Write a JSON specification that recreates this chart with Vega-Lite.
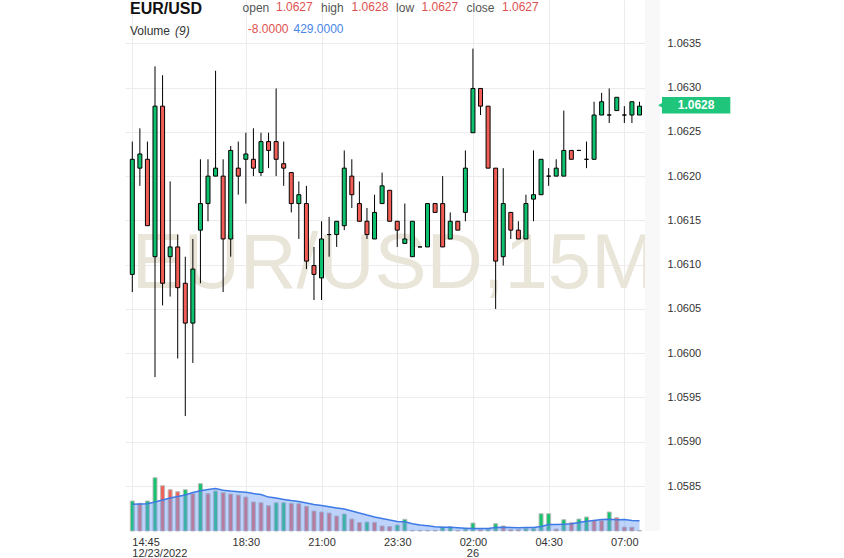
{
"$schema": "https://vega.github.io/schema/vega-lite/v6.json",
"width": 535, "height": 531,
"autosize": "none",
"padding": {"left": 125, "top": 0, "right": 184, "bottom": 27},
"background": "white",
"config": {"view": {"stroke": null}, "font": "Liberation Sans",
  "axisX": {"domain": false, "ticks": false, "grid": true, "gridColor": "#ececec", "gridWidth": 1, "labelAlign": "center", "labelBaseline": "top", "labelPadding": 5, "labelFontSize": 11, "labelColor": "#333333", "labelOverlap": false, "labelFlush": false, "labelBound": false, "labelFont": "Liberation Sans"},
  "axisY": {"domain": false, "ticks": false, "grid": true, "gridColor": "#ececec", "gridWidth": 1, "labelPadding": 7, "labelFontSize": 11, "labelColor": "#333333", "labelBaseline": "middle", "labelFont": "Liberation Sans"}},
"datasets": {
"bars": [
{"i":0,"o":1.06089,"h":1.06239,"l":1.06069,"c":1.06219,"v":1260,"ma":1121,"vd":"u"},
{"i":1,"o":1.06209,"h":1.06254,"l":1.06189,"c":1.06225,"v":1163,"ma":1134,"vd":"d"},
{"i":2,"o":1.06219,"h":1.06239,"l":1.06144,"c":1.06144,"v":1260,"ma":1147,"vd":"u"},
{"i":3,"o":1.06109,"h":1.06324,"l":1.05973,"c":1.06279,"v":2239,"ma":1218,"vd":"u"},
{"i":4,"o":1.06279,"h":1.06314,"l":1.06054,"c":1.06079,"v":1903,"ma":1302,"vd":"d"},
{"i":5,"o":1.06109,"h":1.06194,"l":1.06064,"c":1.0612,"v":1735,"ma":1386,"vd":"d"},
{"i":6,"o":1.0612,"h":1.06134,"l":1.05994,"c":1.06074,"v":1651,"ma":1449,"vd":"d"},
{"i":7,"o":1.06079,"h":1.06109,"l":1.05929,"c":1.06034,"v":1735,"ma":1512,"vd":"u"},
{"i":8,"o":1.06034,"h":1.06129,"l":1.05989,"c":1.06095,"v":1567,"ma":1613,"vd":"d"},
{"i":9,"o":1.06139,"h":1.06219,"l":1.06079,"c":1.06169,"v":1987,"ma":1693,"vd":"u"},
{"i":10,"o":1.06169,"h":1.06219,"l":1.06149,"c":1.062,"v":1567,"ma":1739,"vd":"d"},
{"i":11,"o":1.062,"h":1.06319,"l":1.062,"c":1.06209,"v":1680,"ma":1785,"vd":"u"},
{"i":12,"o":1.062,"h":1.06219,"l":1.06069,"c":1.06129,"v":1609,"ma":1714,"vd":"d"},
{"i":13,"o":1.06129,"h":1.06234,"l":1.06109,"c":1.06229,"v":1554,"ma":1676,"vd":"d"},
{"i":14,"o":1.06209,"h":1.06239,"l":1.06179,"c":1.062,"v":1512,"ma":1651,"vd":"d"},
{"i":15,"o":1.06219,"h":1.06249,"l":1.06169,"c":1.06225,"v":1428,"ma":1625,"vd":"d"},
{"i":16,"o":1.06219,"h":1.06254,"l":1.062,"c":1.06209,"v":1218,"ma":1571,"vd":"d"},
{"i":17,"o":1.06204,"h":1.06249,"l":1.062,"c":1.06239,"v":1189,"ma":1529,"vd":"d"},
{"i":18,"o":1.06239,"h":1.06249,"l":1.06209,"c":1.06229,"v":1063,"ma":1424,"vd":"d"},
{"i":19,"o":1.06239,"h":1.06299,"l":1.062,"c":1.06219,"v":1189,"ma":1382,"vd":"u"},
{"i":20,"o":1.06214,"h":1.06239,"l":1.06189,"c":1.06209,"v":1189,"ma":1327,"vd":"u"},
{"i":21,"o":1.06204,"h":1.06204,"l":1.06159,"c":1.06169,"v":1163,"ma":1277,"vd":"d"},
{"i":22,"o":1.06169,"h":1.06194,"l":1.06129,"c":1.06179,"v":1147,"ma":1235,"vd":"d"},
{"i":23,"o":1.06169,"h":1.06189,"l":1.06095,"c":1.06104,"v":1037,"ma":1180,"vd":"d"},
{"i":24,"o":1.06099,"h":1.0612,"l":1.0606,"c":1.06089,"v":840,"ma":1113,"vd":"d"},
{"i":25,"o":1.06085,"h":1.06149,"l":1.0606,"c":1.06129,"v":798,"ma":1067,"vd":"d"},
{"i":26,"o":1.06134,"h":1.06154,"l":1.06109,"c":1.06134,"v":756,"ma":1021,"vd":"d"},
{"i":27,"o":1.06134,"h":1.06149,"l":1.0612,"c":1.06149,"v":630,"ma":970,"vd":"d"},
{"i":28,"o":1.06144,"h":1.06229,"l":1.06139,"c":1.06209,"v":714,"ma":920,"vd":"u"},
{"i":29,"o":1.062,"h":1.06219,"l":1.06164,"c":1.06179,"v":504,"ma":844,"vd":"d"},
{"i":30,"o":1.06169,"h":1.06194,"l":1.06149,"c":1.06149,"v":357,"ma":752,"vd":"d"},
{"i":31,"o":1.06149,"h":1.06164,"l":1.06129,"c":1.06134,"v":378,"ma":668,"vd":"u"},
{"i":32,"o":1.06129,"h":1.06179,"l":1.06129,"c":1.06159,"v":365,"ma":592,"vd":"d"},
{"i":33,"o":1.06169,"h":1.06204,"l":1.06169,"c":1.06189,"v":210,"ma":525,"vd":"d"},
{"i":34,"o":1.06184,"h":1.06184,"l":1.06149,"c":1.06149,"v":189,"ma":458,"vd":"d"},
{"i":35,"o":1.06149,"h":1.06149,"l":1.0612,"c":1.06139,"v":252,"ma":399,"vd":"u"},
{"i":36,"o":1.06124,"h":1.06169,"l":1.06124,"c":1.06129,"v":491,"ma":386,"vd":"u"},
{"i":37,"o":1.06109,"h":1.06149,"l":1.06109,"c":1.06149,"v":29,"ma":307,"vd":"d"},
{"i":38,"o":1.0612,"h":1.0612,"l":1.0612,"c":1.0612,"v":29,"ma":256,"vd":"d"},
{"i":39,"o":1.0612,"h":1.06169,"l":1.0612,"c":1.06169,"v":29,"ma":218,"vd":"d"},
{"i":40,"o":1.06169,"h":1.06169,"l":1.06159,"c":1.06159,"v":29,"ma":181,"vd":"d"},
{"i":41,"o":1.06169,"h":1.062,"l":1.0612,"c":1.0612,"v":168,"ma":160,"vd":"u"},
{"i":42,"o":1.06129,"h":1.06159,"l":1.06129,"c":1.06149,"v":176,"ma":155,"vd":"u"},
{"i":43,"o":1.06149,"h":1.06149,"l":1.06139,"c":1.06139,"v":29,"ma":139,"vd":"d"},
{"i":44,"o":1.06159,"h":1.06229,"l":1.06149,"c":1.06209,"v":84,"ma":118,"vd":"u"},
{"i":45,"o":1.06249,"h":1.06344,"l":1.06249,"c":1.06299,"v":336,"ma":101,"vd":"u"},
{"i":46,"o":1.06299,"h":1.06299,"l":1.06269,"c":1.06279,"v":55,"ma":105,"vd":"d"},
{"i":47,"o":1.06279,"h":1.06279,"l":1.06209,"c":1.06209,"v":84,"ma":109,"vd":"u"},
{"i":48,"o":1.06209,"h":1.06209,"l":1.0605,"c":1.06104,"v":307,"ma":143,"vd":"u"},
{"i":49,"o":1.06109,"h":1.06209,"l":1.06099,"c":1.06169,"v":210,"ma":160,"vd":"d"},
{"i":50,"o":1.06159,"h":1.06159,"l":1.06129,"c":1.06139,"v":71,"ma":151,"vd":"d"},
{"i":51,"o":1.06139,"h":1.06149,"l":1.06129,"c":1.06129,"v":67,"ma":139,"vd":"d"},
{"i":52,"o":1.06129,"h":1.06179,"l":1.06129,"c":1.06169,"v":113,"ma":147,"vd":"u"},
{"i":53,"o":1.06174,"h":1.06229,"l":1.06149,"c":1.06179,"v":113,"ma":151,"vd":"u"},
{"i":54,"o":1.06179,"h":1.06219,"l":1.06179,"c":1.06219,"v":727,"ma":193,"vd":"u"},
{"i":55,"o":1.062,"h":1.06209,"l":1.06189,"c":1.062,"v":727,"ma":269,"vd":"u"},
{"i":56,"o":1.062,"h":1.06219,"l":1.062,"c":1.06209,"v":84,"ma":269,"vd":"d"},
{"i":57,"o":1.062,"h":1.06274,"l":1.062,"c":1.06229,"v":475,"ma":286,"vd":"u"},
{"i":58,"o":1.06229,"h":1.06229,"l":1.06219,"c":1.06219,"v":349,"ma":302,"vd":"d"},
{"i":59,"o":1.06229,"h":1.06229,"l":1.06229,"c":1.06229,"v":504,"ma":353,"vd":"u"},
{"i":60,"o":1.06219,"h":1.06239,"l":1.06209,"c":1.06219,"v":588,"ma":407,"vd":"u"},
{"i":61,"o":1.06219,"h":1.06284,"l":1.06219,"c":1.06269,"v":449,"ma":445,"vd":"d"},
{"i":62,"o":1.06269,"h":1.06294,"l":1.06269,"c":1.06284,"v":441,"ma":483,"vd":"d"},
{"i":63,"o":1.06269,"h":1.06299,"l":1.0626,"c":1.06269,"v":798,"ma":491,"vd":"u"},
{"i":64,"o":1.06274,"h":1.06289,"l":1.06274,"c":1.06289,"v":559,"ma":470,"vd":"d"},
{"i":65,"o":1.06269,"h":1.06279,"l":1.0626,"c":1.06269,"v":168,"ma":483,"vd":"d"},
{"i":66,"o":1.06269,"h":1.06284,"l":1.0626,"c":1.06284,"v":160,"ma":445,"vd":"d"},
{"i":67,"o":1.06269,"h":1.06284,"l":1.06269,"c":1.06279,"v":21,"ma":429,"vd":"d"}
],
"one": [{"a": 1}]
},
"layer": [
  {"layer": [
    {"data": {"name": "one"},
     "mark": {"type": "text", "text": "EUR/USD,15M", "fontSize": 78, "color": "#e9e5d9", "align": "center", "baseline": "alphabetic", "font": "Liberation Sans"},
     "encoding": {
       "x": {"datum": 34.57, "type": "quantitative", "scale": {"domain": [-0.964, 69.71], "nice": false, "zero": false, "padding": 0}, "axis": {"values": [0,15,25,35,45,55,65], "title": null, "labelExpr": "datum.value == 0 ? '' : datum.value == 15 ? '18:30' : datum.value == 25 ? '21:00' : datum.value == 35 ? '23:30' : datum.value == 45 ? '02:00' : datum.value == 55 ? '04:30' : '07:00'"}},
       "y": {"datum": 1.060736, "type": "quantitative", "scale": {"domain": [1.057992, 1.063989], "nice": false, "zero": false, "padding": 0}, "axis": {"orient": "right", "values": [1.0585,1.059,1.0595,1.06,1.0605,1.061,1.0615,1.062,1.0625,1.063,1.0635], "format": ".4f", "title": null}}}},
    {"data": {"name": "one"},
     "mark": {"type": "rect", "fill": "#f8f8f8"},
     "encoding": {
       "x": {"datum": 67.73, "type": "quantitative", "scale": {"domain": [-0.964, 69.71], "nice": false, "zero": false, "padding": 0}, "axis": {"values": [0,15,25,35,45,55,65], "title": null, "labelExpr": "datum.value == 0 ? '' : datum.value == 15 ? '18:30' : datum.value == 25 ? '21:00' : datum.value == 35 ? '23:30' : datum.value == 45 ? '02:00' : datum.value == 55 ? '04:30' : '07:00'"}},
       "x2": {"datum": 69.71},
       "y": {"datum": 1.057992, "type": "quantitative", "scale": {"domain": [1.057992, 1.063989], "nice": false, "zero": false, "padding": 0}, "axis": {"orient": "right", "values": [1.0585,1.059,1.0595,1.06,1.0605,1.061,1.0615,1.062,1.0625,1.063,1.0635], "format": ".4f", "title": null}},
       "y2": {"datum": 1.063989}}},
    {"data": {"name": "bars"},
     "mark": {"type": "rule", "color": "#000000", "strokeWidth": 1},
     "encoding": {
       "x": {"field": "i", "type": "quantitative", "scale": {"domain": [-0.964, 69.71], "nice": false, "zero": false, "padding": 0}, "axis": {"values": [0,15,25,35,45,55,65], "title": null, "labelExpr": "datum.value == 0 ? '' : datum.value == 15 ? '18:30' : datum.value == 25 ? '21:00' : datum.value == 35 ? '23:30' : datum.value == 45 ? '02:00' : datum.value == 55 ? '04:30' : '07:00'"}},
       "y": {"field": "l", "type": "quantitative", "scale": {"domain": [1.057992, 1.063989], "nice": false, "zero": false, "padding": 0}, "axis": {"orient": "right", "values": [1.0585,1.059,1.0595,1.06,1.0605,1.061,1.0615,1.062,1.0625,1.063,1.0635], "format": ".4f", "title": null}},
       "y2": {"field": "h"}}},
    {"data": {"name": "bars"},
     "mark": {"type": "bar", "size": 4, "stroke": "#000000", "strokeWidth": 1},
     "encoding": {
       "x": {"field": "i", "type": "quantitative", "scale": {"domain": [-0.964, 69.71], "nice": false, "zero": false, "padding": 0}, "axis": {"values": [0,15,25,35,45,55,65], "title": null, "labelExpr": "datum.value == 0 ? '' : datum.value == 15 ? '18:30' : datum.value == 25 ? '21:00' : datum.value == 35 ? '23:30' : datum.value == 45 ? '02:00' : datum.value == 55 ? '04:30' : '07:00'"}},
       "y": {"field": "o", "type": "quantitative", "scale": {"domain": [1.057992, 1.063989], "nice": false, "zero": false, "padding": 0}, "axis": {"orient": "right", "values": [1.0585,1.059,1.0595,1.06,1.0605,1.061,1.0615,1.062,1.0625,1.063,1.0635], "format": ".4f", "title": null}},
       "y2": {"field": "c"},
       "fill": {"condition": {"test": "datum.c > datum.o", "value": "#0ec16e"}, "value": "#f25d55"}}},
    {"data": {"name": "one"},
     "mark": {"type": "text", "text": "EUR/USD", "fontSize": 16, "fontWeight": "bold", "color": "#111111", "align": "left", "baseline": "alphabetic"},
     "encoding": {
       "x": {"datum": -0.304, "type": "quantitative", "scale": {"domain": [-0.964, 69.71], "nice": false, "zero": false, "padding": 0}, "axis": {"values": [0,15,25,35,45,55,65], "title": null, "labelExpr": "datum.value == 0 ? '' : datum.value == 15 ? '18:30' : datum.value == 25 ? '21:00' : datum.value == 35 ? '23:30' : datum.value == 45 ? '02:00' : datum.value == 55 ? '04:30' : '07:00'"}},
       "y": {"datum": 1.063831, "type": "quantitative", "scale": {"domain": [1.057992, 1.063989], "nice": false, "zero": false, "padding": 0}, "axis": {"orient": "right", "values": [1.0585,1.059,1.0595,1.06,1.0605,1.061,1.0615,1.062,1.0625,1.063,1.0635], "format": ".4f", "title": null}}}},
    {"data": {"name": "one"},
     "mark": {"type": "text", "text": "open", "fontSize": 12, "color": "#555555", "align": "left", "baseline": "alphabetic"},
     "encoding": {
       "x": {"datum": 14.57, "type": "quantitative", "scale": {"domain": [-0.964, 69.71], "nice": false, "zero": false, "padding": 0}, "axis": {"values": [0,15,25,35,45,55,65], "title": null, "labelExpr": "datum.value == 0 ? '' : datum.value == 15 ? '18:30' : datum.value == 25 ? '21:00' : datum.value == 35 ? '23:30' : datum.value == 45 ? '02:00' : datum.value == 55 ? '04:30' : '07:00'"}},
       "y": {"datum": 1.063848, "type": "quantitative", "scale": {"domain": [1.057992, 1.063989], "nice": false, "zero": false, "padding": 0}, "axis": {"orient": "right", "values": [1.0585,1.059,1.0595,1.06,1.0605,1.061,1.0615,1.062,1.0625,1.063,1.0635], "format": ".4f", "title": null}}}},
    {"data": {"name": "one"},
     "mark": {"type": "text", "text": "1.0627", "fontSize": 12, "color": "#e0524f", "align": "left", "baseline": "alphabetic"},
     "encoding": {
       "x": {"datum": 18.98, "type": "quantitative", "scale": {"domain": [-0.964, 69.71], "nice": false, "zero": false, "padding": 0}, "axis": {"values": [0,15,25,35,45,55,65], "title": null, "labelExpr": "datum.value == 0 ? '' : datum.value == 15 ? '18:30' : datum.value == 25 ? '21:00' : datum.value == 35 ? '23:30' : datum.value == 45 ? '02:00' : datum.value == 55 ? '04:30' : '07:00'"}},
       "y": {"datum": 1.063865, "type": "quantitative", "scale": {"domain": [1.057992, 1.063989], "nice": false, "zero": false, "padding": 0}, "axis": {"orient": "right", "values": [1.0585,1.059,1.0595,1.06,1.0605,1.061,1.0615,1.062,1.0625,1.063,1.0635], "format": ".4f", "title": null}}}},
    {"data": {"name": "one"},
     "mark": {"type": "text", "text": "high", "fontSize": 12, "color": "#555555", "align": "left", "baseline": "alphabetic"},
     "encoding": {
       "x": {"datum": 24.93, "type": "quantitative", "scale": {"domain": [-0.964, 69.71], "nice": false, "zero": false, "padding": 0}, "axis": {"values": [0,15,25,35,45,55,65], "title": null, "labelExpr": "datum.value == 0 ? '' : datum.value == 15 ? '18:30' : datum.value == 25 ? '21:00' : datum.value == 35 ? '23:30' : datum.value == 45 ? '02:00' : datum.value == 55 ? '04:30' : '07:00'"}},
       "y": {"datum": 1.063848, "type": "quantitative", "scale": {"domain": [1.057992, 1.063989], "nice": false, "zero": false, "padding": 0}, "axis": {"orient": "right", "values": [1.0585,1.059,1.0595,1.06,1.0605,1.061,1.0615,1.062,1.0625,1.063,1.0635], "format": ".4f", "title": null}}}},
    {"data": {"name": "one"},
     "mark": {"type": "text", "text": "1.0628", "fontSize": 12, "color": "#e0524f", "align": "left", "baseline": "alphabetic"},
     "encoding": {
       "x": {"datum": 28.97, "type": "quantitative", "scale": {"domain": [-0.964, 69.71], "nice": false, "zero": false, "padding": 0}, "axis": {"values": [0,15,25,35,45,55,65], "title": null, "labelExpr": "datum.value == 0 ? '' : datum.value == 15 ? '18:30' : datum.value == 25 ? '21:00' : datum.value == 35 ? '23:30' : datum.value == 45 ? '02:00' : datum.value == 55 ? '04:30' : '07:00'"}},
       "y": {"datum": 1.063865, "type": "quantitative", "scale": {"domain": [1.057992, 1.063989], "nice": false, "zero": false, "padding": 0}, "axis": {"orient": "right", "values": [1.0585,1.059,1.0595,1.06,1.0605,1.061,1.0615,1.062,1.0625,1.063,1.0635], "format": ".4f", "title": null}}}},
    {"data": {"name": "one"},
     "mark": {"type": "text", "text": "low", "fontSize": 12, "color": "#555555", "align": "left", "baseline": "alphabetic"},
     "encoding": {
       "x": {"datum": 34.84, "type": "quantitative", "scale": {"domain": [-0.964, 69.71], "nice": false, "zero": false, "padding": 0}, "axis": {"values": [0,15,25,35,45,55,65], "title": null, "labelExpr": "datum.value == 0 ? '' : datum.value == 15 ? '18:30' : datum.value == 25 ? '21:00' : datum.value == 35 ? '23:30' : datum.value == 45 ? '02:00' : datum.value == 55 ? '04:30' : '07:00'"}},
       "y": {"datum": 1.063848, "type": "quantitative", "scale": {"domain": [1.057992, 1.063989], "nice": false, "zero": false, "padding": 0}, "axis": {"orient": "right", "values": [1.0585,1.059,1.0595,1.06,1.0605,1.061,1.0615,1.062,1.0625,1.063,1.0635], "format": ".4f", "title": null}}}},
    {"data": {"name": "one"},
     "mark": {"type": "text", "text": "1.0627", "fontSize": 12, "color": "#e0524f", "align": "left", "baseline": "alphabetic"},
     "encoding": {
       "x": {"datum": 38.2, "type": "quantitative", "scale": {"domain": [-0.964, 69.71], "nice": false, "zero": false, "padding": 0}, "axis": {"values": [0,15,25,35,45,55,65], "title": null, "labelExpr": "datum.value == 0 ? '' : datum.value == 15 ? '18:30' : datum.value == 25 ? '21:00' : datum.value == 35 ? '23:30' : datum.value == 45 ? '02:00' : datum.value == 55 ? '04:30' : '07:00'"}},
       "y": {"datum": 1.063865, "type": "quantitative", "scale": {"domain": [1.057992, 1.063989], "nice": false, "zero": false, "padding": 0}, "axis": {"orient": "right", "values": [1.0585,1.059,1.0595,1.06,1.0605,1.061,1.0615,1.062,1.0625,1.063,1.0635], "format": ".4f", "title": null}}}},
    {"data": {"name": "one"},
     "mark": {"type": "text", "text": "close", "fontSize": 12, "color": "#555555", "align": "left", "baseline": "alphabetic"},
     "encoding": {
       "x": {"datum": 44.15, "type": "quantitative", "scale": {"domain": [-0.964, 69.71], "nice": false, "zero": false, "padding": 0}, "axis": {"values": [0,15,25,35,45,55,65], "title": null, "labelExpr": "datum.value == 0 ? '' : datum.value == 15 ? '18:30' : datum.value == 25 ? '21:00' : datum.value == 35 ? '23:30' : datum.value == 45 ? '02:00' : datum.value == 55 ? '04:30' : '07:00'"}},
       "y": {"datum": 1.063848, "type": "quantitative", "scale": {"domain": [1.057992, 1.063989], "nice": false, "zero": false, "padding": 0}, "axis": {"orient": "right", "values": [1.0585,1.059,1.0595,1.06,1.0605,1.061,1.0615,1.062,1.0625,1.063,1.0635], "format": ".4f", "title": null}}}},
    {"data": {"name": "one"},
     "mark": {"type": "text", "text": "1.0627", "fontSize": 12, "color": "#e0524f", "align": "left", "baseline": "alphabetic"},
     "encoding": {
       "x": {"datum": 48.84, "type": "quantitative", "scale": {"domain": [-0.964, 69.71], "nice": false, "zero": false, "padding": 0}, "axis": {"values": [0,15,25,35,45,55,65], "title": null, "labelExpr": "datum.value == 0 ? '' : datum.value == 15 ? '18:30' : datum.value == 25 ? '21:00' : datum.value == 35 ? '23:30' : datum.value == 45 ? '02:00' : datum.value == 55 ? '04:30' : '07:00'"}},
       "y": {"datum": 1.063865, "type": "quantitative", "scale": {"domain": [1.057992, 1.063989], "nice": false, "zero": false, "padding": 0}, "axis": {"orient": "right", "values": [1.0585,1.059,1.0595,1.06,1.0605,1.061,1.0615,1.062,1.0625,1.063,1.0635], "format": ".4f", "title": null}}}},
    {"data": {"name": "one"},
     "mark": {"type": "text", "text": "Volume", "fontSize": 12, "color": "#333333", "align": "left", "baseline": "alphabetic"},
     "encoding": {
       "x": {"datum": -0.304, "type": "quantitative", "scale": {"domain": [-0.964, 69.71], "nice": false, "zero": false, "padding": 0}, "axis": {"values": [0,15,25,35,45,55,65], "title": null, "labelExpr": "datum.value == 0 ? '' : datum.value == 15 ? '18:30' : datum.value == 25 ? '21:00' : datum.value == 35 ? '23:30' : datum.value == 45 ? '02:00' : datum.value == 55 ? '04:30' : '07:00'"}},
       "y": {"datum": 1.063594, "type": "quantitative", "scale": {"domain": [1.057992, 1.063989], "nice": false, "zero": false, "padding": 0}, "axis": {"orient": "right", "values": [1.0585,1.059,1.0595,1.06,1.0605,1.061,1.0615,1.062,1.0625,1.063,1.0635], "format": ".4f", "title": null}}}},
    {"data": {"name": "one"},
     "mark": {"type": "text", "text": "(9)", "fontSize": 12, "fontStyle": "italic", "color": "#333333", "align": "left", "baseline": "alphabetic"},
     "encoding": {
       "x": {"datum": 5.64, "type": "quantitative", "scale": {"domain": [-0.964, 69.71], "nice": false, "zero": false, "padding": 0}, "axis": {"values": [0,15,25,35,45,55,65], "title": null, "labelExpr": "datum.value == 0 ? '' : datum.value == 15 ? '18:30' : datum.value == 25 ? '21:00' : datum.value == 35 ? '23:30' : datum.value == 45 ? '02:00' : datum.value == 55 ? '04:30' : '07:00'"}},
       "y": {"datum": 1.063594, "type": "quantitative", "scale": {"domain": [1.057992, 1.063989], "nice": false, "zero": false, "padding": 0}, "axis": {"orient": "right", "values": [1.0585,1.059,1.0595,1.06,1.0605,1.061,1.0615,1.062,1.0625,1.063,1.0635], "format": ".4f", "title": null}}}},
    {"data": {"name": "one"},
     "mark": {"type": "text", "text": "-8.0000", "fontSize": 12, "color": "#e0524f", "align": "left", "baseline": "alphabetic"},
     "encoding": {
       "x": {"datum": 15.26, "type": "quantitative", "scale": {"domain": [-0.964, 69.71], "nice": false, "zero": false, "padding": 0}, "axis": {"values": [0,15,25,35,45,55,65], "title": null, "labelExpr": "datum.value == 0 ? '' : datum.value == 15 ? '18:30' : datum.value == 25 ? '21:00' : datum.value == 35 ? '23:30' : datum.value == 45 ? '02:00' : datum.value == 55 ? '04:30' : '07:00'"}},
       "y": {"datum": 1.063611, "type": "quantitative", "scale": {"domain": [1.057992, 1.063989], "nice": false, "zero": false, "padding": 0}, "axis": {"orient": "right", "values": [1.0585,1.059,1.0595,1.06,1.0605,1.061,1.0615,1.062,1.0625,1.063,1.0635], "format": ".4f", "title": null}}}},
    {"data": {"name": "one"},
     "mark": {"type": "text", "text": "429.0000", "fontSize": 12, "color": "#4a86e8", "align": "left", "baseline": "alphabetic"},
     "encoding": {
       "x": {"datum": 21.29, "type": "quantitative", "scale": {"domain": [-0.964, 69.71], "nice": false, "zero": false, "padding": 0}, "axis": {"values": [0,15,25,35,45,55,65], "title": null, "labelExpr": "datum.value == 0 ? '' : datum.value == 15 ? '18:30' : datum.value == 25 ? '21:00' : datum.value == 35 ? '23:30' : datum.value == 45 ? '02:00' : datum.value == 55 ? '04:30' : '07:00'"}},
       "y": {"datum": 1.063611, "type": "quantitative", "scale": {"domain": [1.057992, 1.063989], "nice": false, "zero": false, "padding": 0}, "axis": {"orient": "right", "values": [1.0585,1.059,1.0595,1.06,1.0605,1.061,1.0615,1.062,1.0625,1.063,1.0635], "format": ".4f", "title": null}}}},
    {"data": {"name": "one"},
     "mark": {"type": "text", "text": "14:45", "fontSize": 11, "color": "#333333", "align": "left", "baseline": "alphabetic"},
     "encoding": {
       "x": {"datum": 0.0, "type": "quantitative", "scale": {"domain": [-0.964, 69.71], "nice": false, "zero": false, "padding": 0}, "axis": {"values": [0,15,25,35,45,55,65], "title": null, "labelExpr": "datum.value == 0 ? '' : datum.value == 15 ? '18:30' : datum.value == 25 ? '21:00' : datum.value == 35 ? '23:30' : datum.value == 45 ? '02:00' : datum.value == 55 ? '04:30' : '07:00'"}},
       "y": {"datum": 1.057822, "type": "quantitative", "scale": {"domain": [1.057992, 1.063989], "nice": false, "zero": false, "padding": 0}, "axis": {"orient": "right", "values": [1.0585,1.059,1.0595,1.06,1.0605,1.061,1.0615,1.062,1.0625,1.063,1.0635], "format": ".4f", "title": null}}}},
    {"data": {"name": "one"},
     "mark": {"type": "text", "text": "12/23/2022", "fontSize": 11, "color": "#333333", "align": "left", "baseline": "alphabetic"},
     "encoding": {
       "x": {"datum": 0.0, "type": "quantitative", "scale": {"domain": [-0.964, 69.71], "nice": false, "zero": false, "padding": 0}, "axis": {"values": [0,15,25,35,45,55,65], "title": null, "labelExpr": "datum.value == 0 ? '' : datum.value == 15 ? '18:30' : datum.value == 25 ? '21:00' : datum.value == 35 ? '23:30' : datum.value == 45 ? '02:00' : datum.value == 55 ? '04:30' : '07:00'"}},
       "y": {"datum": 1.057695, "type": "quantitative", "scale": {"domain": [1.057992, 1.063989], "nice": false, "zero": false, "padding": 0}, "axis": {"orient": "right", "values": [1.0585,1.059,1.0595,1.06,1.0605,1.061,1.0615,1.062,1.0625,1.063,1.0635], "format": ".4f", "title": null}}}},
    {"data": {"name": "one"},
     "mark": {"type": "text", "text": "26", "fontSize": 11, "color": "#333333", "align": "center", "baseline": "alphabetic"},
     "encoding": {
       "x": {"datum": 45.0, "type": "quantitative", "scale": {"domain": [-0.964, 69.71], "nice": false, "zero": false, "padding": 0}, "axis": {"values": [0,15,25,35,45,55,65], "title": null, "labelExpr": "datum.value == 0 ? '' : datum.value == 15 ? '18:30' : datum.value == 25 ? '21:00' : datum.value == 35 ? '23:30' : datum.value == 45 ? '02:00' : datum.value == 55 ? '04:30' : '07:00'"}},
       "y": {"datum": 1.057695, "type": "quantitative", "scale": {"domain": [1.057992, 1.063989], "nice": false, "zero": false, "padding": 0}, "axis": {"orient": "right", "values": [1.0585,1.059,1.0595,1.06,1.0605,1.061,1.0615,1.062,1.0625,1.063,1.0635], "format": ".4f", "title": null}}}},
    {"data": {"name": "one"},
     "mark": {"type": "rect", "fill": "#1ec57b"},
     "encoding": {
       "x": {"datum": 69.97, "type": "quantitative", "scale": {"domain": [-0.964, 69.71], "nice": false, "zero": false, "padding": 0}, "axis": {"values": [0,15,25,35,45,55,65], "title": null, "labelExpr": "datum.value == 0 ? '' : datum.value == 15 ? '18:30' : datum.value == 25 ? '21:00' : datum.value == 35 ? '23:30' : datum.value == 45 ? '02:00' : datum.value == 55 ? '04:30' : '07:00'"}},
       "x2": {"datum": 79.0},
       "y": {"datum": 1.062894, "type": "quantitative", "scale": {"domain": [1.057992, 1.063989], "nice": false, "zero": false, "padding": 0}, "axis": {"orient": "right", "values": [1.0585,1.059,1.0595,1.06,1.0605,1.061,1.0615,1.062,1.0625,1.063,1.0635], "format": ".4f", "title": null}},
       "y2": {"datum": 1.062706}}},
    {"data": {"name": "one"},
     "mark": {"type": "point", "shape": "triangle-left", "filled": true, "color": "#1ec57b", "size": 22, "opacity": 1},
     "encoding": {
       "x": {"datum": 69.72, "type": "quantitative", "scale": {"domain": [-0.964, 69.71], "nice": false, "zero": false, "padding": 0}, "axis": {"values": [0,15,25,35,45,55,65], "title": null, "labelExpr": "datum.value == 0 ? '' : datum.value == 15 ? '18:30' : datum.value == 25 ? '21:00' : datum.value == 35 ? '23:30' : datum.value == 45 ? '02:00' : datum.value == 55 ? '04:30' : '07:00'"}},
       "y": {"datum": 1.0628, "type": "quantitative", "scale": {"domain": [1.057992, 1.063989], "nice": false, "zero": false, "padding": 0}, "axis": {"orient": "right", "values": [1.0585,1.059,1.0595,1.06,1.0605,1.061,1.0615,1.062,1.0625,1.063,1.0635], "format": ".4f", "title": null}}}},
    {"data": {"name": "one"},
     "mark": {"type": "text", "text": "1.0628", "fontSize": 12, "fontWeight": "bold", "color": "#ffffff", "align": "center", "baseline": "middle"},
     "encoding": {
       "x": {"datum": 74.48, "type": "quantitative", "scale": {"domain": [-0.964, 69.71], "nice": false, "zero": false, "padding": 0}, "axis": {"values": [0,15,25,35,45,55,65], "title": null, "labelExpr": "datum.value == 0 ? '' : datum.value == 15 ? '18:30' : datum.value == 25 ? '21:00' : datum.value == 35 ? '23:30' : datum.value == 45 ? '02:00' : datum.value == 55 ? '04:30' : '07:00'"}},
       "y": {"datum": 1.0628, "type": "quantitative", "scale": {"domain": [1.057992, 1.063989], "nice": false, "zero": false, "padding": 0}, "axis": {"orient": "right", "values": [1.0585,1.059,1.0595,1.06,1.0605,1.061,1.0615,1.062,1.0625,1.063,1.0635], "format": ".4f", "title": null}}}}
  ]},
  {"layer": [
    {"data": {"name": "bars"},
     "mark": {"type": "bar", "size": 4, "stroke": "#bdbdbd", "strokeWidth": 1},
     "encoding": {
       "x": {"field": "i", "type": "quantitative", "scale": {"domain": [-0.964, 69.71], "nice": false, "zero": false, "padding": 0}, "axis": {"values": [0,15,25,35,45,55,65], "title": null, "labelExpr": "datum.value == 0 ? '' : datum.value == 15 ? '18:30' : datum.value == 25 ? '21:00' : datum.value == 35 ? '23:30' : datum.value == 45 ? '02:00' : datum.value == 55 ? '04:30' : '07:00'"}},
       "y": {"field": "v", "type": "quantitative", "scale": {"domain": [0, 22302], "nice": false, "zero": true}, "axis": null},
       "fill": {"condition": {"test": "datum.vd == 'u'", "value": "#15c26e"}, "value": "#f0625a"}}},
    {"data": {"name": "bars"},
     "mark": {"type": "area", "color": "#6f9ef2", "opacity": 0.45},
     "encoding": {
       "x": {"field": "i", "type": "quantitative", "scale": {"domain": [-0.964, 69.71], "nice": false, "zero": false, "padding": 0}, "axis": {"values": [0,15,25,35,45,55,65], "title": null, "labelExpr": "datum.value == 0 ? '' : datum.value == 15 ? '18:30' : datum.value == 25 ? '21:00' : datum.value == 35 ? '23:30' : datum.value == 45 ? '02:00' : datum.value == 55 ? '04:30' : '07:00'"}},
       "y": {"field": "ma", "type": "quantitative", "scale": {"domain": [0, 22302], "nice": false, "zero": true}, "axis": null}}},
    {"data": {"name": "bars"},
     "mark": {"type": "line", "color": "#3d7ae6", "strokeWidth": 1.5},
     "encoding": {
       "x": {"field": "i", "type": "quantitative", "scale": {"domain": [-0.964, 69.71], "nice": false, "zero": false, "padding": 0}, "axis": {"values": [0,15,25,35,45,55,65], "title": null, "labelExpr": "datum.value == 0 ? '' : datum.value == 15 ? '18:30' : datum.value == 25 ? '21:00' : datum.value == 35 ? '23:30' : datum.value == 45 ? '02:00' : datum.value == 55 ? '04:30' : '07:00'"}},
       "y": {"field": "ma", "type": "quantitative", "scale": {"domain": [0, 22302], "nice": false, "zero": true}, "axis": null}}}
  ]}
],
"resolve": {"scale": {"y": "independent"}}
}
